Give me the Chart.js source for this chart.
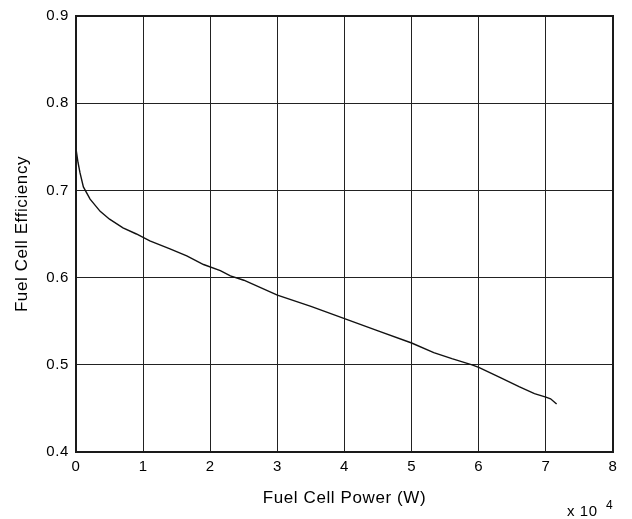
<!DOCTYPE html>
<html>
<head>
<meta charset="utf-8">
<script src="https://cdn.jsdelivr.net/npm/chart.js@4"></script>
<style>
  html, body { margin: 0; padding: 0; background: #fff; }
  #wrap { width: 632px; height: 519px; }
</style>
</head>
<body>
<div id="wrap"><canvas id="c" width="632" height="519"></canvas></div>
<script>
// Fuel cell power (W)
const fuelCellPower = [50, 300, 600, 1100, 2100, 3600, 5000, 7000, 9000, 11000, 14000, 16500, 19000, 21500, 23000, 25000, 30000, 35000, 40000, 45000, 50000, 53300, 56000, 59000, 60000, 63300, 66000, 68300, 70000, 70700, 71600];
// Fuel cell efficiency
const fuelCellEfficiency = [0.745, 0.732, 0.720, 0.704, 0.690, 0.676, 0.667, 0.657, 0.650, 0.642, 0.633, 0.625, 0.615, 0.608, 0.602, 0.597, 0.580, 0.567, 0.553, 0.539, 0.525, 0.514, 0.507, 0.500, 0.497, 0.485, 0.475, 0.467, 0.463, 0.461, 0.455];

const xTickLabels = ['0', '1', '2', '3', '4', '5', '6', '7', '8'];
const yTickLabels = ['0.4', '0.5', '0.6', '0.7', '0.8', '0.9'];
const xAxisTitle = 'Fuel Cell Power (W)';
const yAxisTitle = 'Fuel Cell Efficiency';
const xExponentBase = 'x 10';
const xExponent = '4';

const FONT = 'Liberation Sans, Arial, Helvetica, sans-serif';

const framePlugin = {
  id: 'frame',
  beforeDraw(chart) {
    chart.ctx.letterSpacing = '0.6px';
  },
  afterDraw(chart) {
    const { ctx, chartArea: a } = chart;
    ctx.save();
    ctx.strokeStyle = '#1a1a1a';
    ctx.lineWidth = 2;
    ctx.strokeRect(a.left, a.top, a.right - a.left, a.bottom - a.top);
    ctx.fillStyle = '#000';
    ctx.letterSpacing = '0.6px';
    ctx.textBaseline = 'alphabetic';
    ctx.textAlign = 'left';
    ctx.font = '15px ' + FONT;
    ctx.fillText(xExponentBase, 567, 516);
    ctx.font = '12px ' + FONT;
    ctx.fillText(xExponent, 606, 509);
    ctx.restore();
  }
};

new Chart(document.getElementById('c'), {
  type: 'line',
  data: {
    datasets: [{
      data: fuelCellPower.map((p, i) => ({ x: p, y: fuelCellEfficiency[i] })),
      borderColor: '#111',
      borderWidth: 1.4,
      pointRadius: 0,
      tension: 0,
      fill: false
    }]
  },
  plugins: [framePlugin],
  options: {
    responsive: false,
    animation: false,
    devicePixelRatio: 1,
    layout: { padding: { top: 14, right: 19, left: 12, bottom: 10 } },
    plugins: { legend: { display: false }, tooltip: { enabled: false } },
    scales: {
      x: {
        type: 'linear',
        min: 0, max: 80000,
        ticks: {
          stepSize: 10000,
          color: '#000',
          font: { family: FONT, size: 15 },
          padding: 6,
          maxRotation: 0,
          callback: (v, i) => xTickLabels[i]
        },
        grid: { color: '#222', lineWidth: 1, drawTicks: false },
        border: { display: false },
        title: {
          display: true,
          text: xAxisTitle,
          color: '#000',
          font: { family: FONT, size: 17 },
          padding: { top: 8, bottom: 0 }
        },
        afterFit(s) { s.height = 57; }
      },
      y: {
        type: 'linear',
        min: 0.4, max: 0.9,
        ticks: {
          stepSize: 0.1,
          color: '#000',
          font: { family: FONT, size: 15 },
          padding: 7,
          callback: (v, i) => yTickLabels[i]
        },
        grid: { color: '#222', lineWidth: 1, drawTicks: false },
        border: { display: false },
        title: {
          display: true,
          text: yAxisTitle,
          color: '#000',
          font: { family: FONT, size: 17 },
          padding: { top: 0, bottom: 4 }
        },
        afterFit(s) { s.width = 64; }
      }
    }
  }
});
</script>
</body>
</html>
